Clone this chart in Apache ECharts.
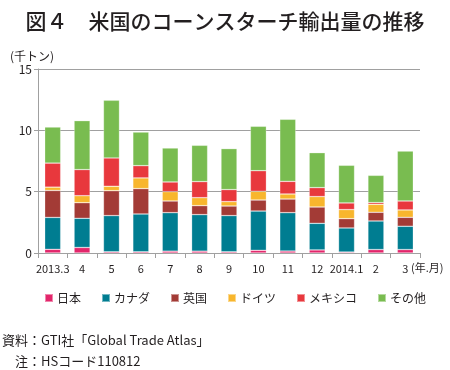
<!DOCTYPE html>
<html>
<head>
<meta charset="utf-8">
<script src="https://cdn.jsdelivr.net/npm/echarts@6/dist/echarts.min.js"></script>
<style>html,body{margin:0;padding:0;background:#fff}#c{width:450px;height:370px}</style>
</head>
<body>
<div id="c"></div>
<script>
const categories = ['2013.3','4','5','6','7','8','9','10','11','12','2014.1','2','3'];
const japan   = [0.30,0.45,0.10,0.10,0.15,0.15,0.10,0.22,0.16,0.25,0.08,0.28,0.28];
const canada  = [2.60,2.38,2.95,3.08,3.14,2.98,2.95,3.20,3.13,2.17,1.96,2.33,1.90];
const uk      = [2.20,1.27,2.03,2.07,0.95,0.73,0.78,0.90,1.11,1.33,0.76,0.71,0.73];
const germany = [0.27,0.57,0.36,0.87,0.76,0.65,0.36,0.71,0.41,0.85,0.74,0.65,0.60];
const mexico  = [1.96,2.13,2.31,1.00,0.79,1.31,0.98,1.68,1.03,0.73,0.54,0.14,0.73];
const other   = [2.94,3.99,4.70,2.74,2.77,2.96,3.34,3.62,5.06,2.85,3.07,2.22,4.07];
const seriesNames = ['日本','カナダ','英国','ドイツ','メキシコ','その他'];
const yTicks = [0,5,10,15];

const colors = ['#E3266B','#007D91','#A33B36','#F8B62D','#E8383D','#79BC50'];
const FONT = '"Noto Sans CJK JP", "Noto Sans", sans-serif';
const dataArr = [japan, canada, uk, germany, mexico, other];

const chart = echarts.init(document.getElementById('c'), null, {renderer:'canvas'});
chart.setOption({
  animation: false,
  textStyle: {fontFamily: FONT, color: '#231f20'},
  title: {
    text: '図４　米国のコーンスターチ輸出量の推移',
    left: 'center', top: 6,
    textStyle: {fontFamily: FONT, fontSize: 21, fontWeight: 500, color: '#231f20'}
  },
  legend: {
    data: seriesNames,
    left: 39, top: 287,
    icon: 'rect', itemWidth: 8, itemHeight: 8, itemGap: 20,
    textStyle: {fontFamily: FONT, fontSize: 12, color: '#231f20', padding: [0,0,0,-1]}
  },
  grid: {left: 38, right: 30, top: 69, bottom: 117},
  xAxis: {
    type: 'category', data: categories,
    axisLine: {lineStyle: {color: '#a0a0a0', width: 1}},
    axisTick: {show: true, alignWithLabel: false, length: 5, lineStyle: {color: '#a0a0a0'}},
    axisLabel: {fontFamily: FONT, fontSize: 11, color: '#231f20', margin: 10, interval: 0}
  },
  yAxis: {
    type: 'value', min: 0, max: 15, interval: 5,
    axisLine: {show: true, lineStyle: {color: '#a0a0a0', width: 1}},
    axisTick: {show: true, length: 4, lineStyle: {color: '#a0a0a0'}},
    splitLine: {lineStyle: {color: '#a0a0a0', width: 1}},
    axisLabel: {fontFamily: FONT, fontSize: 12, color: '#231f20', margin: 6}
  },
  graphic: [
    {type: 'text', left: 10, top: 50, style: {text: '(千トン)', font: '12px ' + FONT, fill: '#231f20'}},
    {type: 'text', left: 411, top: 262, style: {text: '(年.月)', font: '11px ' + FONT, fill: '#231f20'}},
    {type: 'text', left: 2, top: 334, style: {text: '資料：GTI社「Global Trade Atlas」', font: '13px ' + FONT, fill: '#231f20'}},
    {type: 'text', left: 15, top: 355, style: {text: '注：HSコード110812', font: '13px ' + FONT, fill: '#231f20'}}
  ],
  series: seriesNames.map((n, i) => ({
    name: n, type: 'bar', stack: 'total', data: dataArr[i], barWidth: 16,
    itemStyle: {color: colors[i], borderColor: 'rgba(255,255,255,0.45)', borderWidth: 0.6}
  }))
});
</script>
</body>
</html>
